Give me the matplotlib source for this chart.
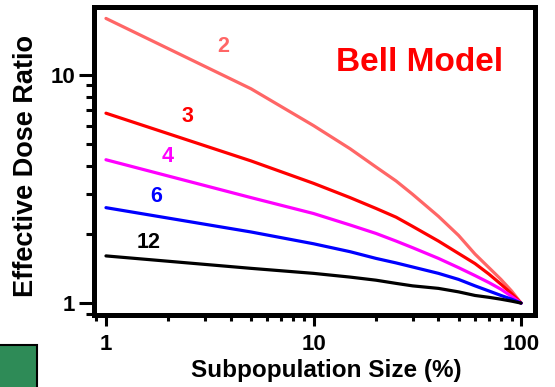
import matplotlib
matplotlib.use("Agg")
import matplotlib.pyplot as plt
from matplotlib.patches import Rectangle
from matplotlib.ticker import LogLocator, NullFormatter, FixedLocator, FixedFormatter

plt.rcParams['font.family'] = ['Liberation Sans', 'DejaVu Sans']
plt.rcParams['font.weight'] = 'bold'

# subpopulation size (%)
size = [1, 5, 10, 15, 20, 25, 30, 40, 50, 60, 70, 80, 90, 100]

# effective dose ratio, one curve per model parameter
ratio2 = [17.7, 8.7, 6.0, 4.75, 3.95, 3.43, 3.0, 2.4, 1.98, 1.64, 1.43, 1.27, 1.13, 1.0]
ratio3 = [6.8, 4.2, 3.35, 2.9, 2.6, 2.38, 2.17, 1.87, 1.65, 1.49, 1.34, 1.21, 1.1, 1.0]
ratio4 = [4.25, 2.9, 2.47, 2.2, 2.02, 1.87, 1.75, 1.57, 1.43, 1.32, 1.23, 1.15, 1.07, 1.0]
ratio6 = [2.62, 2.05, 1.82, 1.68, 1.57, 1.5, 1.44, 1.35, 1.27, 1.19, 1.13, 1.08, 1.04, 1.0]
ratio12 = [1.61, 1.42, 1.35, 1.3, 1.26, 1.22, 1.19, 1.16, 1.12, 1.08, 1.06, 1.04, 1.02, 1.0]

curves = [
    ("2", ratio2, "#ff6666", (3.66, 13.3)),
    ("3", ratio3, "#ff0000", (2.48, 6.6)),
    ("4", ratio4, "#ff00ff", (1.99, 4.37)),
    ("6", ratio6, "#0000ff", (1.74, 2.92)),
    ("12", ratio12, "#000000", (1.61, 1.85)),
]

fig = plt.figure(figsize=(5.55, 3.87), dpi=100)
ax = fig.add_axes([0.1685, 0.187, 0.7946, 0.795])

for name, vals, col, pos in curves:
    ax.plot(size, vals, color=col, lw=2.3, solid_capstyle='round')
    ax.text(pos[0], pos[1], name, color=col, fontsize=15.5, fontweight='bold',
            ha='center', va='center')

ax.text(0.74, 0.818, "Bell Model", color="#ff0000", fontsize=24,
        fontweight='bold', ha='center', va='center', transform=ax.transAxes)

ax.set_xscale('log')
ax.set_yscale('log')
ax.set_xlim(0.871, 116.1)
ax.set_ylim(0.890, 19.87)

ax.xaxis.set_major_locator(FixedLocator([1, 10, 100]))
ax.xaxis.set_major_formatter(FixedFormatter(["1", "10", "100"]))
ax.xaxis.set_minor_locator(LogLocator(base=10, subs=range(2, 10)))
ax.xaxis.set_minor_formatter(NullFormatter())
ax.yaxis.set_major_locator(FixedLocator([1, 10]))
ax.yaxis.set_major_formatter(FixedFormatter(["1", "10"]))
ax.yaxis.set_minor_locator(LogLocator(base=10, subs=range(2, 10)))
ax.yaxis.set_minor_formatter(NullFormatter())

for sp in ax.spines.values():
    sp.set_linewidth(3.6)
ax.tick_params(axis='x', which='major', length=8, width=2.2, pad=6, labelsize=16)
ax.tick_params(axis='x', which='minor', length=4, width=2.2)
ax.tick_params(axis='y', which='major', length=11, width=2.2, pad=2, labelsize=16)
ax.tick_params(axis='y', which='minor', length=6, width=2.2)
for lab in ax.get_xticklabels() + ax.get_yticklabels():
    lab.set_fontweight('bold')

ax.set_xlabel("Subpopulation Size (%)", fontsize=17.5, fontweight='bold')
ax.set_ylabel("Effective Dose Ratio", fontsize=19.5, fontweight='bold')
ax.xaxis.set_label_coords(0.527, -0.183)
ax.yaxis.set_label_coords(-0.152, 0.484)
ax.xaxis.label.set_va('center')
ax.yaxis.label.set_va('center')

fig.patches.append(Rectangle((-0.01, -0.01), 37 / 555 + 0.01, 42 / 387 + 0.01,
                             transform=fig.transFigure, facecolor="#2e8b57",
                             edgecolor="black", lw=1.5))

fig.savefig("out.png", dpi=100)
